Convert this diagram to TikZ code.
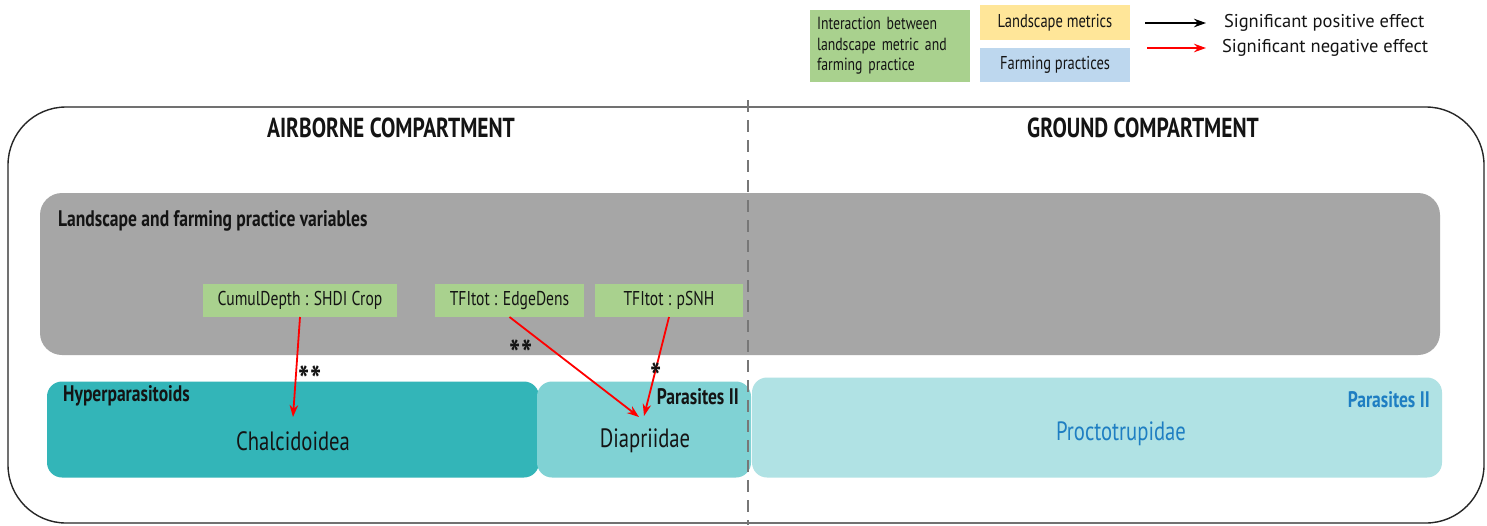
\documentclass[tikz,border=0pt]{standalone}
\usepackage{fontspec}
\setmainfont{PT Sans}[FakeStretch=0.78]
\newfontfamily\widefont{PT Sans}
\usetikzlibrary{arrows.meta}
\definecolor{lgreen}{HTML}{A9D18E}
\definecolor{lyellow}{HTML}{FFE699}
\definecolor{lblue}{HTML}{BDD7EE}
\definecolor{gbox}{HTML}{A6A6A6}
\definecolor{teal1}{HTML}{33B5B8}
\definecolor{teal2}{HTML}{80D2D4}
\definecolor{teal3}{HTML}{B0E2E4}
\definecolor{ptext}{HTML}{1E7EC2}
\definecolor{dashg}{HTML}{777777}
\definecolor{txt}{HTML}{141414}
\tikzset{
  box/.style={inner sep=0pt, outer sep=0pt, text=txt},
  legbox/.style={box, font=\fontsize{18.6}{20}\selectfont},
  efftext/.style={box, font=\widefont\fontsize{18.5}{20}\selectfont},
  varbox/.style={box, fill=lgreen, minimum height=33pt, font=\fontsize{20}{22}\selectfont},
  title/.style={text=txt, font=\bfseries\fontsize{27.5}{30}\selectfont, inner sep=0pt},
  negarrow/.style={red, line width=1.8pt, -{Stealth[length=12pt,width=8.5pt]}},
  posarrow/.style={black, line width=2.2pt, -{Stealth[length=12pt,width=8.5pt]}},
  star/.style={text=txt, font=\fontsize{38}{40}\selectfont\bfseries, inner sep=0pt, anchor=base},
  taxon/.style={inner sep=0pt, font=\fontsize{26.5}{30}\selectfont},
  grp/.style={inner sep=0pt, font=\fontsize{22.5}{25}\selectfont\bfseries},
}
\begin{document}
\begin{tikzpicture}[x=1pt,y=-1pt]
\useasboundingbox (0,0) rectangle (1487,525);
\fill[white] (0,0) rectangle (1487,525);
% legend
\node[legbox, fill=lgreen, minimum width=160pt, minimum height=72pt, align=left, text width=146pt, font=\fontsize{17.6}{20.5}\selectfont] (lgi) at (890,46) {Interaction between\\landscape metric and\\farming practice};
\node[legbox, fill=lyellow, minimum width=150pt, minimum height=35pt] (lgl) at (1055,22.5) {Landscape metrics};
\node[legbox, fill=lblue, minimum width=150pt, minimum height=34pt] (lgf) at (1055,65) {Farming practices};
\coordinate (pa1) at (1145,23); \coordinate (pa2) at (1206,23);
\coordinate (na1) at (1147,48); \coordinate (na2) at (1206,48);
\draw[posarrow] (pa1) -- (pa2);
\draw[negarrow] (na1) -- (na2);
\node[efftext, anchor=west] (lpos) at (1224,23) {Significant positive effect};
\node[efftext, anchor=west] (lneg) at (1222,48) {Significant negative effect};
% frame
\draw[line width=1.4pt, draw=black!85, rounded corners=58pt] (8,107) rectangle (1484,523);
% titles
\node[title] (air) at (391,128) {AIRBORNE COMPARTMENT};
\node[title] (gnd) at (1143,128) {GROUND COMPARTMENT};
% grey variables box
\node[box, fill=gbox, rounded corners=22pt, minimum width=1400pt, minimum height=162pt] (vars) at (740,274) {};
\node[grp, anchor=west, text=txt] (varsl) at (58,221) {Landscape and farming practice variables};
\node[varbox, minimum width=194pt] (c1) at (300,300.5) {CumulDepth : SHDI Crop};
\node[varbox, minimum width=149pt] (c2) at (509.5,300.5) {TFItot : EdgeDens};
\node[varbox, minimum width=148pt] (c3) at (669,300.5) {TFItot : pSNH};
% taxa boxes
\node[box, fill=teal1, rounded corners=15pt, minimum width=492pt, minimum height=96pt] (hyp) at (293,429.5) {};
\node[box, fill=teal2, rounded corners=15pt, minimum width=214pt, minimum height=96pt] (par) at (644,429.5) {};
\node[box, fill=teal3, rounded corners=15pt, minimum width=690pt, minimum height=100pt] (gpar) at (1097,427.5) {};
\node[grp, anchor=west, text=txt] (hypl) at (63,396) {Hyperparasitoids};
\node[taxon, text=txt] (chal) at (293,441) {Chalcidoidea};
\node[grp, anchor=east, text=txt] (parl) at (739,397) {Parasites II};
\node[taxon, text=txt] (diap) at (645,441) {Diapriidae};
\node[grp, anchor=east, text=ptext] (gparl) at (1430,400) {Parasites II};
\node[taxon, text=ptext] (proc) at (1121,434) {Proctotrupidae};
% dashed divider
\coordinate (dv1) at (748,100); \coordinate (dv2) at (748,525);
\draw[dashg, line width=2.6pt, dash pattern=on 12pt off 8pt] (dv1) -- (dv2);
% effect arrows
\coordinate (t1) at (293,417);
\coordinate (t2) at (639,417);
\coordinate (t3) at (644,416);
\draw[negarrow] (c1.south) -- (t1);
\draw[negarrow] (c2.south) -- (t2);
\draw[negarrow] (c3.south) -- (t3);
\node[star] (s1) at (310,393) {**};
\node[star] (s2) at (521,367) {**};
\node[star] (s3) at (656,390) {*};
\end{tikzpicture}
\end{document}
